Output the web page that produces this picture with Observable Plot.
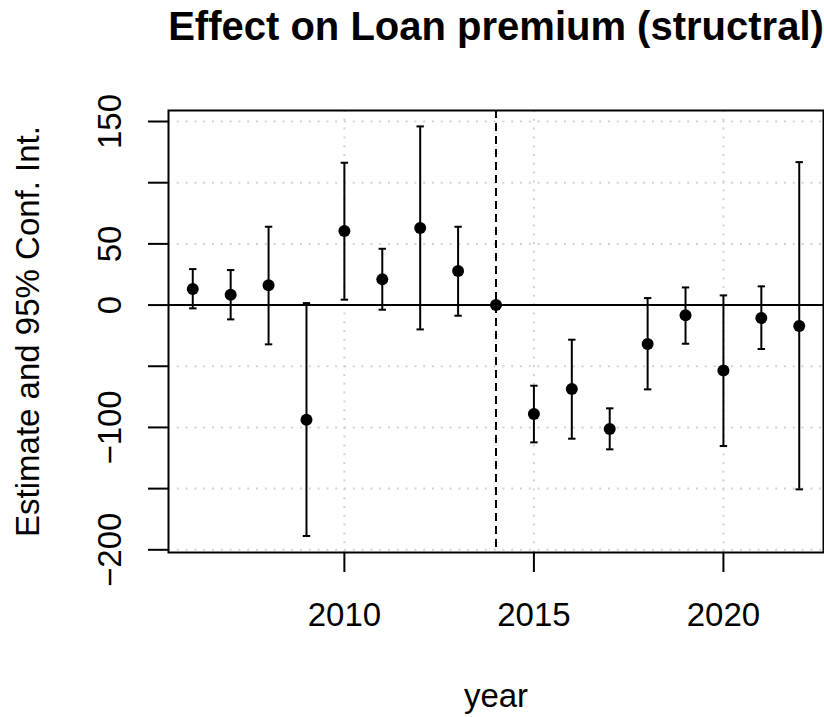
<!DOCTYPE html>
<html><head><meta charset="utf-8">
<script src="https://cdn.jsdelivr.net/npm/d3@7"></script>
<script src="https://cdn.jsdelivr.net/npm/@observablehq/plot@0.6"></script>
<style>body{margin:0;background:#fff}</style>
</head><body><div id="chart"></div>
<script>
const years    = [2006, 2007, 2008, 2009, 2010, 2011, 2012, 2013, 2014, 2015, 2016, 2017, 2018, 2019, 2020, 2021, 2022];
const estimate = [13.1, 8.4, 16.1, -93.7, 60.5, 21.0, 62.9, 27.8, 0, -89.1, -68.6, -101.3, -31.9, -8.4, -53.4, -10.6, -17.2];
const ciLow    = [-2.7, -11.7, -32.1, -188.7, 4.4, -3.8, -19.9, -8.7, null, -112.2, -109.2, -117.9, -68.9, -31.6, -115.2, -35.9, -150.6];
const ciHigh   = [29.4, 28.6, 64.0, 1.6, 116.3, 46.0, 146.0, 64.0, null, -65.9, -28.3, -84.4, 5.7, 14.4, 7.9, 15.3, 116.8];
const yTicks = [-200, -150, -100, -50, 0, 50, 100, 150];
const yLabelled = [-200, -100, 0, 50, 150];
const xTicks = [2010, 2015, 2020];
const refYear = [2014];
const title = "Effect on Loan premium (structral)";
const xTitle = "year";
const yTitle = "Estimate and 95% Conf. Int.";

const rows = years.map((year, i) => ({year, estimate: estimate[i], low: ciLow[i], high: ciHigh[i]}));
const withCI = rows.filter(d => d.low != null);
const capSymbol = {draw(context, size) { const w = Math.sqrt(size / Math.PI); context.moveTo(-w, 0); context.lineTo(w, 0); }};
const fmt = d => yLabelled.includes(d) ? (d < 0 ? "\u2212" + Math.abs(d) : String(d)) : "";
const gridStyle = {stroke: "#d3d3d3", strokeOpacity: 1, strokeWidth: 2, strokeDasharray: "2 6.8"};

const chart = Plot.plot({
  width: 824, height: 717,
  marginLeft: 168, marginRight: 1, marginTop: 110, marginBottom: 165,
  style: {fontFamily: "'Liberation Sans', Arial, Helvetica, sans-serif", fontSize: "33px", background: "#fff", color: "#000", overflow: "visible"},
  x: {domain: [2005.36, 2022.64]},
  y: {domain: [-202.2, 159.0]},
  marks: [
    Plot.gridY(yTicks, gridStyle),
    Plot.gridX(xTicks, gridStyle),
    Plot.ruleY([0], {stroke: "black", strokeWidth: 2}),
    Plot.ruleX(refYear, {stroke: "black", strokeWidth: 2, strokeDasharray: "8 5"}),
    Plot.ruleX(withCI, {x: "year", y1: "low", y2: "high", stroke: "black", strokeWidth: 2}),
    Plot.dot(withCI, {x: "year", y: "low", symbol: capSymbol, r: 3.7, stroke: "black", strokeWidth: 2, fill: "none"}),
    Plot.dot(withCI, {x: "year", y: "high", symbol: capSymbol, r: 3.7, stroke: "black", strokeWidth: 2, fill: "none"}),
    Plot.dot(rows, {x: "year", y: "estimate", r: 6, fill: "black", stroke: "none"}),
    Plot.frame({stroke: "black", strokeWidth: 2}),
    Plot.axisX(xTicks, {tickSize: 20, tickPadding: 30, tickFormat: d => String(d), fontSize: 33, strokeWidth: 2, label: null}),
    Plot.axisY(yTicks, {tickSize: 20, tickRotate: -90, tickPadding: 28, tickFormat: fmt, fontSize: 33, strokeWidth: 2, label: null}),
    Plot.text([title], {frameAnchor: "top", dy: -71, lineAnchor: "bottom", fontSize: 40, fontWeight: "bold", text: d => d}),
    Plot.text([xTitle], {frameAnchor: "bottom", dy: 154, lineAnchor: "bottom", fontSize: 33, text: d => d}),
    Plot.text([yTitle], {frameAnchor: "left", dx: -130, rotate: -90, lineAnchor: "bottom", textAnchor: "middle", fontSize: 33, text: d => d})
  ]
});
document.getElementById("chart").appendChild(chart);
</script>
</body></html>
